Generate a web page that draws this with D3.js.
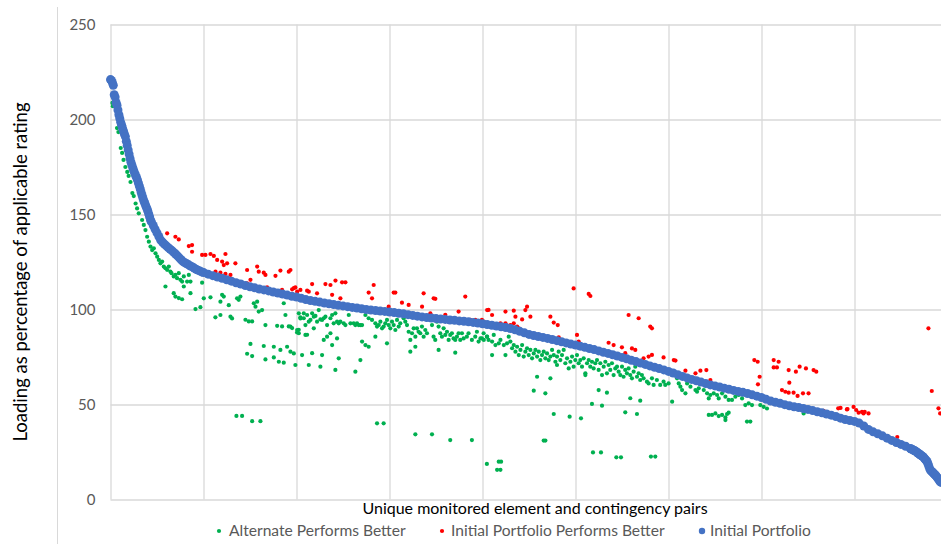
<!DOCTYPE html>
<html><head><meta charset="utf-8">
<script src="https://cdnjs.cloudflare.com/ajax/libs/d3/7.8.5/d3.min.js"></script>
<style>html,body{margin:0;padding:0;background:#fff;}svg{display:block;font-family:Lato,"Open Sans",sans-serif;}</style>
</head><body><div id="chart"></div>
<script>
// ---------- DATA ----------
const yTicks = [0, 50, 100, 150, 200, 250];
const xGrid = [0, 100, 200, 300, 400, 500, 600, 700, 800, 900];
const seriesNames = ["Alternate Performs Better", "Initial Portfolio Performs Better", "Initial Portfolio"];
const yTitle = "Loading as percentage of applicable rating";
const xTitle = "Unique monitored element and contingency pairs";

// Initial Portfolio (sorted loading) [pair index, loading %]
const initialPortfolio = [
[0,221],[1,220.5],[2,219.5],[3,218],[4,213],[5,211.8],[6,209],[7,207.5],[8,205],[9,202.5],[10,200.5],[11,198.5],[12,197],[13,195.3],[14,193.8],[15,192.3],[16,191],[17,188.5],[18,186.3],[19,184],[20,181.8],[21,179.5],[22,177.5],[23,176],[24,174.5],[25,173],[26,171.8],[27,170.5],[28,169.5],[29,168.2],[30,166.6],[31,165],[32,163.4],[33,161.6],[34,160],[35,158.4],[36,157],[37,155.8],[38,154.5],[39,153.3],[40,152],[41,150.4],[42,148.8],[43,147.1],[44,146.1],
[46,144.2],[48,142.2],[50,140.3],[52,138.4],[54,136.5],[56,135.4],[58,134.4],[60,133.5],[62,132.6],[64,131.8],[66,131],[68,130.1],[70,129.2],[72,128.2],[74,127.2],[76,126.2],[78,125.2],[80,124.6],[82,124.1],[84,123.5],[86,122.9],[88,122.4],[90,121.8],[92,121.2],[94,120.7],[96,120.3],[98,119.8],[100,119.5],
[105,118.6],[110,117.8],[115,117.1],[120,116.4],[125,115.6],[130,114.9],[135,114.1],[140,113.4],[145,112.6],[150,112],[155,111.4],[160,110.8],[165,110.3],[170,109.8],[175,109.2],[180,108.7],[185,108.1],[190,107.6],[195,107],[200,106.6],
[205,105.9],[210,105.2],[215,104.7],[220,104.3],[225,103.9],[230,103.4],[235,103],[240,102.6],[245,102.2],[250,101.9],[255,101.5],[260,101.1],[265,100.8],[270,100.4],[275,100],[280,99.7],[285,99.5],[290,99.2],[295,99],[300,98.7],
[305,98.4],[310,98],[315,97.7],[320,97.3],[325,96.9],[330,96.5],[335,96.1],[340,95.8],[345,95.5],[350,95.2],[355,95],[360,94.8],[365,94.5],[370,94.3],[375,94],[380,93.8],[385,93.5],[390,93.2],[395,92.9],[400,92.5],
[405,92.1],[410,91.7],[415,91.3],[420,90.9],[425,90.5],[430,90],[435,89.3],[440,88.5],[445,87.7],[450,86.9],[455,86.3],[460,85.8],[465,85.3],[470,84.8],[475,84.2],[480,83.6],[485,83],[490,82.4],[495,81.8],[500,81.3],
[505,80.7],[510,80.1],[515,79.5],[520,78.9],[525,78.2],[530,77.5],[535,76.9],[540,76.2],[545,75.5],[550,74.8],[555,74.1],[560,73.3],[565,72.6],[570,71.8],[575,71.1],[580,70.3],[585,69.6],[590,68.9],[595,68.2],[600,67.4],
[605,66.6],[610,65.7],[615,64.8],[620,64],[625,63.2],[630,62.5],[635,61.8],[640,61],[645,60.3],[650,59.8],[655,59.2],[660,58.6],[665,58],[670,57.4],[675,56.9],[680,56.4],[685,55.8],[690,55.1],[695,54.4],[700,53.7],
[705,52.7],[710,51.8],[715,51.2],[720,50.6],[725,49.9],[730,49.3],[735,48.8],[740,48.4],[745,47.9],[750,47.4],[755,46.8],[760,46.2],[765,45.6],[770,45],[775,44.4],[780,43.7],[785,42.8],[790,42.1],[795,41.6],[800,41.1],
[805,40.2],[810,38.7],[815,36.9],[820,35.6],[825,34.6],[830,33.5],[835,32.3],[840,31.1],[845,30],[850,29],[855,28],[860,26.8],
[861,26.6],[862,26.4],[863,26.1],[864,25.8],[865,25.6],[866,25.3],[867,24.9],[868,24.5],[869,24.2],[870,23.8],[871,23.4],[872,23.1],[873,22.7],[874,22.4],[875,21.8],[876,21.2],[877,20.6],[878,20],[879,18.8],[880,17.4],[881,16],[882,15.2],[883,14.8],[884,14.3],[885,13.8],[886,13.3],[887,12.9],[888,12.3],[889,11.6],[890,10.9],[891,10.2],[892,9.5],[893,9]
];

// Alternate Performs Better [pair index, loading %]
const alternateBetter = [
[2,208.7],[2.5,207],[7,195.5],[8.5,193.4],[11,185],[12.5,182.4],[14,178.7],[16,175],[18,172.4],[19.5,170.3],[21.5,167.1],[23.5,161.3],[25,159.7],
[27,155.8],[28.6,153.2],[30.4,150.6],[34,147.1],[35.8,144.5],[37.6,141.8],[39.4,138.3],[41.2,135.7],[43,133.1],[44.8,131.3],[46.6,132.2],[48.4,129.6],[50.2,127.8],[52,126.1],[53.7,124.3],[55.5,125.2],[57.3,122.6],[59.1,121.7],[60.9,120.9],[62.7,122.6],[64.4,120],[65.6,119.1],[68,117.4],[69.8,118.2],[71.6,116.5],[73.4,119.1],[75.2,115.6],[77,114.7],[78.8,117.4],[82.4,114.7],[84.2,118.2],[86,114.7],
[59.1,112.1],[68,108.6],[69.8,106.8],[73.4,106],[77,105.4],[78.8,112.1],[86,108.6],[91.4,100.2],[96.7,101.2],[98.5,114.1],[100.3,105.9],[107.5,106.4],[112.8,95.9],[118.2,97.1],[120,107.7],[121.8,106.8],[118.2,104.1],[127.2,102.3],[129,96.2],[130.7,95.3],[136.1,105.9],[137.9,105.1],[139.7,106.8],[145.1,94.6],[148.7,93.7],[152.3,93.7],[150.5,81.9],[146.9,76.7],[152.3,75.5],[154.1,103.3],[155.9,101.5],[157.7,104.1],[159.4,98.9],[163,99.7],[164.8,80.8],[166.6,91.8],[166.6,73.7],[175.6,80.4],[175.6,74.8],[179.2,91.4],[181,72.5],[182.7,78.7],[184.5,91.1],[186.3,72],[186.3,103.3],[188.1,97.1],[189.9,80.4],[191.7,91.1],[193.5,77.8],[195.3,90.2],[197.1,76.9],[198.8,70.8],[200.6,87.9],[202.4,89.3],[204.2,95.3],[206,76],[207.8,98],[211.4,86.7],[213.2,70.8],
[135.4,44],[141.5,44],[152.3,41.2],[161.2,41.2],
[193.5,91],[200.7,89.2],[202.5,98],[204.2,95.9],[207.8,95.4],[209.6,91.8],[211.4,97.1],[213.2,93.6],[215,94.5],[216.8,98],[218.6,96.2],[220.4,96.6],[222.1,93.6],[223.9,99.7],[225.7,94.8],[227.5,94.5],[229.3,95.4],[231.1,96.2],[232.9,91.8],[236.5,95.4],[238.3,97.1],[240,92.7],[241.8,98],[243.6,93.6],[245.4,92.7],[247.2,93.6],[250.8,92.7],[252.6,91.8],[256.2,97.1],[258,92.7],[261.5,92.7],[263.3,91.8],[265.1,92.7],[266.9,91.8],[268.7,91.8],[270.5,91.8],[274.1,97.1],[277.6,95.4],[281.2,94.5],[284.8,92.7],[286.6,91],[288.4,91.8],[290.2,93.6],[292,90.1],[293.7,91],[295.5,92.7],[297.3,94.5],[299.1,91.8],[300.9,90.1],[302.7,93.6],[304.5,91.8],[306.3,89.2],[308.1,94.5],[309.9,91],[311.6,92.7],[315.2,95.4],[317,93.6],[318.8,91.8],[320.6,88.3],[322.4,84],[324.2,87.5],[326,90.1],[327.8,85.7],[329.5,90.1],[331.3,88.3],[333.1,87.5],[334.9,91],[336.7,85.7],[338.5,89.2],[340.3,87.5],[345.7,91.8],[347.4,85.7],[349.2,84],[351,93.6],[352.8,91],[354.6,87.5],[356.4,85.7],[358.2,90.1],[360,86.6],[361.8,88.3],[363.6,84],[365.3,86.6],[367.1,87.5],[368.9,84.8],[370.7,84],[372.5,85.7],[374.3,87.5],[376.1,84],[377.9,87.5],[379.7,84.8],[383.2,85.7],[385,87.5],[388.6,84],[392.2,85.7],[394,88.3],[395.8,83.1],[399.4,84.8],[401.2,87.5],[404.7,85.7],[406.5,84],
[202.5,87.5],[209.6,86.6],[216.8,77],[218.6,90.1],[225.7,69.9],[227.5,76],[229.3,84],[232.9,85.7],[236.5,87.5],[238.3,81.3],[241.8,68.2],[243.6,84.8],[245.4,74.3],[263.3,67.3],[268.7,73.4],[270.5,83.1],[274.1,81.3],[277.6,80.4],[284.8,85.7],[297.3,82.2],[322.4,77.8],[327.8,80.4],[352.8,78.7],[370.7,77.3],
[286.6,40.1],[293.7,40.1],[327.8,34.3],[345.7,34.3],[365.3,31.3],[388.6,31.3],[404.7,18.7],
[397.8,84.8],[401.4,84],[405,85.7],[410.3,83.1],[412.1,86.6],[413.9,81.3],[417.5,82.2],[419.3,84],[422.9,81.3],[426.4,82.2],[428.2,85.7],[430,83.1],[431.8,79.6],[433.6,81.3],[435.4,77.8],[437.2,80.4],[439,76],[440.8,78.7],[442.6,81.3],[444.3,75.2],[446.1,77.8],[447.9,79.6],[449.7,76],[451.5,78.7],[453.3,74.3],[455.1,76.9],[456.9,78.7],[458.7,75.2],[460.5,77.8],[462.2,73.4],[464,76],[465.8,77.8],[467.6,74.3],[469.4,76.9],[471.2,73.4],[473,75.2],[474.8,78.7],[476.6,76],[478.4,72.5],[480.1,75.2],[481.9,77.8],[483.7,73.4],[485.5,76],[487.3,78.7],[489.1,71.7],[490.9,74.3],[492.7,69],[494.5,72.5],[496.3,75.2],[498,69.9],[499.8,73.4],[501.6,76],[503.4,71.7],[505.2,73.4],[507,69.9],[508.8,74.3],[510.6,66.4],[512.4,71.7],[514.2,73.4],[515.9,69.9],[517.7,72.5],[519.5,69],[521.3,71.7],[523.1,73.4],[524.9,68.2],[526.7,71.7],[528.5,65.5],[530.3,69.9],[532.1,72.5],[533.8,66.4],[535.6,70.8],[537.4,68.2],[539.2,71.7],[541,65.5],[542.8,69],[544.6,69.9],[546.4,67.3],[548.2,65.5],[550,69.9],[551.7,64.6],[553.5,68.2],[555.3,66.4],[557.1,69],[558.9,65.5],[560.7,63.8],[562.5,67.3],[564.3,69.9],[566.1,64.6],[567.9,66.4],[569.6,62.9],[571.4,65.5],[573.2,63.8],[576.8,62],[578.6,61.1],[582.2,63.8],[584,60.3],[587.5,62.9],[591.1,60.3],[594.7,62],[596.5,60.3],[600.1,61.1],
[410.3,76],[424.7,76],[458.7,64.6],[473,63.8],[455.1,57.3],[467.6,55.9],[480.1,70.8],[510.6,65.5],[524.9,57.6],[533.8,56.2],[517.7,50.3],[528.5,49.4],[558.9,53.3],[569.6,52],[553.5,45.9],[566.1,45],[476.6,45],[493.7,43.6],[505.9,42.7],[465.8,31],[467.6,31],
[415.7,15.6],[419.3,15.6],[417.5,19.9],[420,19.9],[518.8,24.8],[527.4,24.8],[543.9,22.2],[548.9,22.2],[581.1,22.6],[585.8,22.6],
[603.9,51.5],[609.2,63.8],[611,61.1],[612.8,59.4],[614.6,57.6],[618.2,55.9],[620,61.1],[623.6,59.4],[629,57.6],[630.7,56.7],[632.5,58.5],[637.9,57.6],[641.5,55.9],[643.3,53.2],[645,55],[648.6,55.9],[652.2,55],[654,53.2],[657.6,55.9],[661.2,54.1],[664.7,52.4],[668.3,52.4],[671.9,54.1],[675.5,55],[679.1,53.2],[682.6,49.7],[686.2,50.6],[689.8,49.7],[698.7,49.7],[702.3,48.8],[705.9,47.9],[745.3,45.3],
[643.3,44.5],[646.8,44.5],[650.4,45.3],[654,43.9],[657.6,44.5],[661.2,43.2],[663,45],[664.7,45.7],[661.2,41.8],[684.4,41],[688,41]
];

// Initial Portfolio Performs Better [pair index, loading %]
const initialBetter = [
[60.9,140.1],[69.8,138.3],[73.4,136.9],[84.2,133.4],[87.7,133.9],[87.7,130.4],[98.5,128.7],[102.1,128.7],[107.5,129.2],[111.1,128.2],[114.7,126.1],[120,125.2],[123.6,129.2],[121.8,123.4],[125.4,124.3],[134.3,124.3],[112.9,119.9],[118.2,119.4],[123.6,118.7],[129,118.2],[146.9,120.8],[150.5,115.6],[146.9,113.8],[157.7,122.6],[159.4,119.9],[164.8,119.4],[166.6,118.2],[177.4,117.7],[182.7,120.5],[191.7,119.9],[168.4,111.6],[184.5,110.3],[195.3,110.6],[198.8,111.6],[204.2,110.3],[211.4,109.9],
[193.5,120.8],[197.1,111.2],[200.7,109.4],[213.2,109.4],[216.8,113.4],[222.1,108.5],[231.1,113.4],[236.5,112.9],[238.3,107.7],[241.9,115.2],[249,114.3],[252.6,114.3],[247.2,105.9],[277.6,108.9],[283,112.9],[281.2,105.9],[304.5,108.9],[306.3,108.9],[299.1,101.5],[313.4,103.6],[320.6,102.4],[336.7,108.5],[335,101.5],[347.5,105.9],[349.3,105.6],[343.9,98],[360,97.2],[374.3,98.9],[381.5,106.8],[386.8,94.5],[392.2,94.5],[399.4,94.5],[406.5,99.8],
[405,99.7],[410.3,97.1],[401.4,93.6],[424.7,98.9],[433.6,99.4],[435.4,96.2],[442.6,94.8],[446.1,99.7],[447.9,101.5],[451.5,96.2],[419.3,92.7],[424.7,92.7],[430,91.8],[433.6,92.7],[437.2,91],[439,90.1],[473,96.2],[476.6,93.1],[480.9,91.8],[482,85.3],[498,111.1],[514.2,108.2],[516,107.1],[501.6,86.6],[503.4,83.1],[535.6,82.5],[541,81.3],[549.9,80.1],[553.5,77],[557.1,97.1],[560.7,79.5],[567.9,95.4],[564.3,78.7],[573.2,74.3],[580.4,91],[582.2,90.1],[578.6,75.2],[582.2,76.1],[594.7,74.8],
[605.7,73.4],[607.5,73.1],[618.2,67.8],[629,66.4],[634.3,67.8],[640.7,68.1],[645,62.9],[692.3,73.4],[695.9,72.5],[713.1,73.4],[718.4,72.5],[698,64.6],[696.2,60.6],[713.1,69.5],[716.6,69.5],[729.2,68.1],[737,67.3],[741,69.9],[747.8,69],[756,68.1],[758.9,67.3],[729.9,61.5],[722,57.6],[725.6,56.7],[729.2,56.2],[734.5,56.2],[738.8,54.5],[744.6,55.9],[750.6,55.9],
[766.8,46.7],[782.5,48],[785,48.2],[791.8,47.4],[792.5,47.6],[799,48.7],[801.8,47.1],[804.4,45.7],[808,46.1],[809.7,45.3],[811,46.1],[815.1,45.3],[846,32.9],
[879.5,90.1],[883.1,57.1],[890.3,48],[892.1,45.3]
];

// ---------- CHART ----------
const W = 941, H = 544;
const svg = d3.select("#chart").append("svg").attr("width", W).attr("height", H);
svg.append("rect").attr("width", W).attr("height", H).attr("fill", "#fff");

const x = d3.scaleLinear().domain([0, 900]).range([110.5, 947.5]);
const y = d3.scaleLinear().domain([0, 250]).range([499.5, 24.5]);

// chart border (left edge)
svg.append("line").attr("x1", 57.5).attr("x2", 57.5).attr("y1", 7).attr("y2", H)
  .attr("stroke", "#d9d9d9").attr("stroke-width", 1);

// horizontal gridlines + labels via axis
const yAxis = d3.axisLeft(y).tickValues(yTicks).tickSize(-(W - 110.5)).tickPadding(15);
const gy = svg.append("g").attr("transform", "translate(110.5,0)").call(yAxis);
gy.select(".domain").remove();
gy.selectAll(".tick line").attr("stroke", "#d9d9d9").attr("stroke-width", 1.3);
gy.selectAll(".tick text").attr("fill", "#595959").style("font-size", "15px").style("font-family", "Lato, sans-serif");

// vertical gridlines via axis
const xAxis = d3.axisBottom(x).tickValues(xGrid).tickSize(-(499.5 - 24.5)).tickFormat("");
const gx = svg.append("g").attr("transform", "translate(0,499.5)").call(xAxis);
gx.select(".domain").remove();
gx.selectAll(".tick line").attr("stroke", "#d9d9d9").attr("stroke-width", 1.3);

const plot = svg.append("g");
plot.selectAll("circle.alt").data(alternateBetter).join("circle").attr("class", "alt")
  .attr("cx", d => x(d[0])).attr("cy", d => y(d[1])).attr("r", 2.1).attr("fill", "#00b050");
plot.selectAll("circle.ini").data(initialBetter).join("circle").attr("class", "ini")
  .attr("cx", d => x(d[0])).attr("cy", d => y(d[1])).attr("r", 2.1).attr("fill", "#ff0000");
plot.selectAll("circle.port").data(initialPortfolio).join("circle").attr("class", "port")
  .attr("cx", d => x(d[0])).attr("cy", d => y(d[1])).attr("r", 4.5).attr("fill", "#4472c4");

// axis titles
svg.append("text").attr("transform", "translate(27,272) rotate(-90)").attr("text-anchor", "middle")
  .style("font-size", "18.5px").attr("fill", "#000").text(yTitle);
svg.append("text").attr("x", 535).attr("y", 514).attr("text-anchor", "middle")
  .style("font-size", "16px").attr("fill", "#000").text(xTitle);

// legend
const legendItems = [
  {name: seriesNames[0], color: "#00b050", r: 2.1, cx: 219, tx: 229},
  {name: seriesNames[1], color: "#ff0000", r: 2.1, cx: 442, tx: 451},
  {name: seriesNames[2], color: "#4472c4", r: 3.2, cx: 702, tx: 710}
];
const lg = svg.append("g");
legendItems.forEach(it => {
  lg.append("circle").attr("cx", it.cx).attr("cy", 531).attr("r", it.r).attr("fill", it.color);
  lg.append("text").attr("x", it.tx).attr("y", 536).style("font-size", "15.6px").attr("fill", "#595959").text(it.name);
});
</script></body></html>
